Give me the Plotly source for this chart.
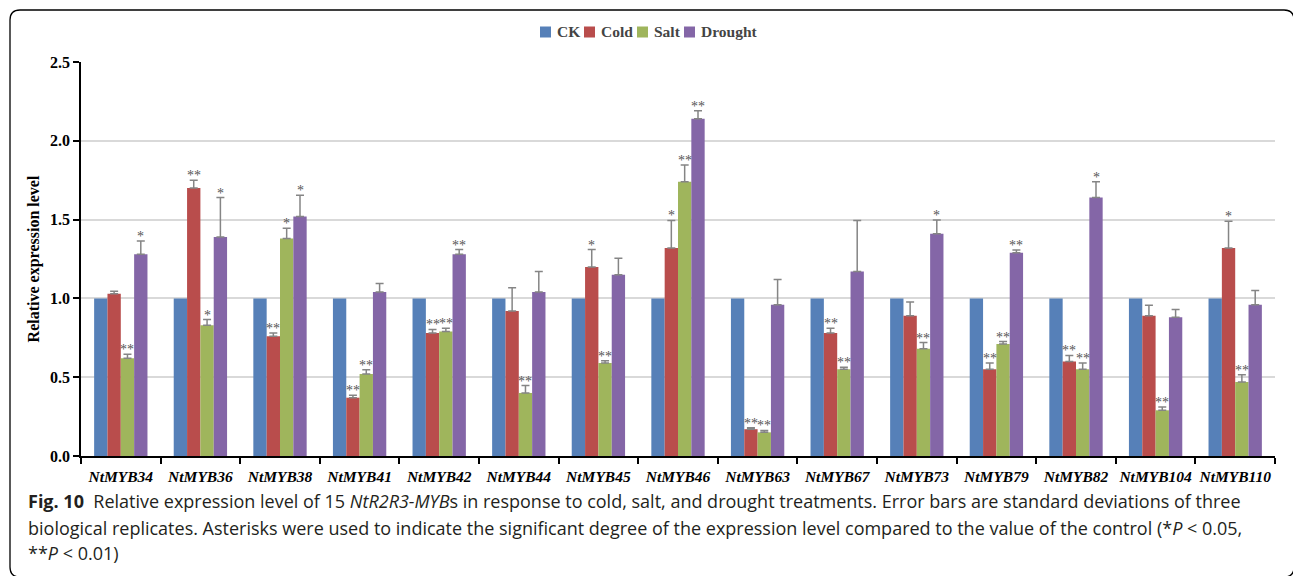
import plotly.graph_objects as go

# ---- data ----------------------------------------------------------------
genes = ["NtMYB34", "NtMYB36", "NtMYB38", "NtMYB41", "NtMYB42", "NtMYB44",
         "NtMYB45", "NtMYB46", "NtMYB63", "NtMYB67", "NtMYB73", "NtMYB79",
         "NtMYB82", "NtMYB104", "NtMYB110"]

treatments = ["CK", "Cold", "Salt", "Drought"]

ck = [1.0] * 15
cold = [1.03, 1.70, 0.76, 0.37, 0.78, 0.92, 1.20, 1.32, 0.17, 0.78,
        0.89, 0.55, 0.60, 0.89, 1.32]
salt = [0.62, 0.83, 1.38, 0.52, 0.79, 0.40, 0.59, 1.74, 0.15, 0.55,
        0.68, 0.71, 0.55, 0.29, 0.47]
drought = [1.28, 1.39, 1.52, 1.04, 1.28, 1.04, 1.15, 2.14, 0.96, 1.17,
           1.41, 1.29, 1.64, 0.88, 0.96]

cold_sd = [0.015, 0.05, 0.02, 0.015, 0.023, 0.148, 0.11, 0.175, 0.01, 0.03,
           0.087, 0.04, 0.038, 0.066, 0.17]
salt_sd = [0.025, 0.036, 0.065, 0.027, 0.02, 0.047, 0.015, 0.106, 0.012, 0.013,
           0.04, 0.016, 0.04, 0.021, 0.045]
drought_sd = [0.085, 0.25, 0.135, 0.055, 0.03, 0.13, 0.104, 0.05, 0.16, 0.325,
              0.087, 0.017, 0.10, 0.05, 0.09]

cold_sig = ["", "**", "**", "**", "**", "", "*", "*", "**", "**",
            "", "**", "**", "", "*"]
salt_sig = ["**", "*", "*", "**", "**", "**", "**", "**", "**", "**",
            "**", "**", "**", "**", "**"]
drought_sig = ["*", "*", "*", "", "**", "", "", "**", "", "",
               "*", "**", "*", "", ""]

colors = ["#5680B8", "#B94D4C", "#9FB55C", "#8466A7"]

caption_lines = [
    "<b>Fig. 10</b>  Relative expression level of 15 <i>NtR2R3-MYB</i>s in response to cold, salt, "
    "and drought treatments. Error bars are standard deviations of three",
    "biological replicates. Asterisks were used to indicate the significant degree of the "
    "expression level compared to the value of the control (*<i>P</i> < 0.05,",
    "**<i>P</i> < 0.01)",
]

# ---- geometry of the figure (pixels) -------------------------------------
W, H = 1293, 576
PL, PR, PT, PB = 81, 1275, 62, 456          # plot area edges
BARGAP = 0.33
BW = (1 - BARGAP) / 4                        # width of one bar in category units


def px(x):
    return (x - PL) / (PR - PL)


def py(y):
    return (PB - y) / (PB - PT)


SERIF = "Liberation Serif, Times New Roman, serif"

fig = go.Figure()

series = [ck, cold, salt, drought]
sds = [None, cold_sd, salt_sd, drought_sd]
for name, vals, sd, col in zip(treatments, series, sds, colors):
    kw = {}
    if sd is not None:
        kw["error_y"] = dict(type="data", array=sd, arrayminus=[0] * len(sd),
                             symmetric=False, color="#858585", thickness=1.5, width=4)
    fig.add_trace(go.Bar(x=genes, y=vals, name=name, marker=dict(color=col, line=dict(width=0)),
                         showlegend=False, **kw))

# significance marks above the error bars
for k, (vals, sd, sig) in enumerate(zip([cold, salt, drought],
                                        [cold_sd, salt_sd, drought_sd],
                                        [cold_sig, salt_sig, drought_sig]), start=1):
    for i in range(len(genes)):
        if sig[i]:
            fig.add_annotation(x=i + (k - 1.5) * BW, y=vals[i] + sd[i], xref="x", yref="y",
                               text=sig[i], showarrow=False, yanchor="bottom",
                               yshift=-5, font=dict(family=SERIF, size=14, color="#555555"))

# legend drawn as swatches + labels across the top
legend_x = [540, 584, 637, 684]
for name, col, lx in zip(treatments, colors, legend_x):
    fig.add_shape(type="rect", xref="paper", yref="paper",
                  x0=px(lx), x1=px(lx + 11), y0=py(37.5), y1=py(26.5),
                  fillcolor=col, line=dict(width=0))
    fig.add_annotation(xref="paper", yref="paper", x=px(lx + 15), y=py(31.5),
                       xanchor="left", yanchor="middle", showarrow=False, text=name,
                       font=dict(family=SERIF, size=15.5, color="#444444", weight="bold"))

# caption below the chart
cap_y = [501, 528, 553]
cap_x = [26, 26, 26]
for line, cx, cy in zip(caption_lines, cap_x, cap_y):
    fig.add_annotation(xref="paper", yref="paper", x=px(cx), y=py(cy),
                       xanchor="left", yanchor="middle", showarrow=False, align="left",
                       text=line,
                       font=dict(family="Open Sans, sans-serif", size=18, color="#231F20"))

# rounded frame around figure and caption
x0, y0, x1, y1, r = 10, 10, 1294, 577, 10
path = (f"M {px(x0)},{py(y0 + r)} Q {px(x0)},{py(y0)} {px(x0 + r)},{py(y0)} "
        f"L {px(x1 - r)},{py(y0)} Q {px(x1)},{py(y0)} {px(x1)},{py(y0 + r)} "
        f"L {px(x1)},{py(y1 - r)} Q {px(x1)},{py(y1)} {px(x1 - r)},{py(y1)} "
        f"L {px(x0 + r)},{py(y1)} Q {px(x0)},{py(y1)} {px(x0)},{py(y1 - r)} Z")
fig.add_shape(type="path", xref="paper", yref="paper", path=path,
              line=dict(color="#000000", width=1.3))

fig.update_layout(
    width=W, height=H, autosize=False,
    margin=dict(l=PL, r=W - PR, t=PT, b=H - PB),
    paper_bgcolor="white", plot_bgcolor="white",
    barmode="group", bargap=BARGAP, bargroupgap=0,
)
fig.update_xaxes(
    type="category", range=[-0.5, len(genes) - 0.5],
    showline=True, linecolor="black", linewidth=1.5,
    ticks="outside", tickson="boundaries", ticklen=6, tickwidth=1.5, tickcolor="black",
    tickangle=0, ticklabelstandoff=6,
    tickfont=dict(family=SERIF, size=15.5, color="black", weight="bold", style="italic"),
    showgrid=False,
)
fig.update_yaxes(
    range=[0, 2.5], dtick=0.5, tickformat=".1f",
    showline=True, linecolor="black", linewidth=1.5,
    ticks="outside", ticklen=6, tickwidth=1.5, tickcolor="black",
    tickfont=dict(family=SERIF, size=16, color="black", weight="bold"),
    showgrid=True, gridcolor="#D9D9D9", gridwidth=1.5, zeroline=False,
    title=dict(text="Relative expression level", standoff=6,
               font=dict(family=SERIF, size=16, color="black", weight="bold")),
)

fig.write_html("out.html")
